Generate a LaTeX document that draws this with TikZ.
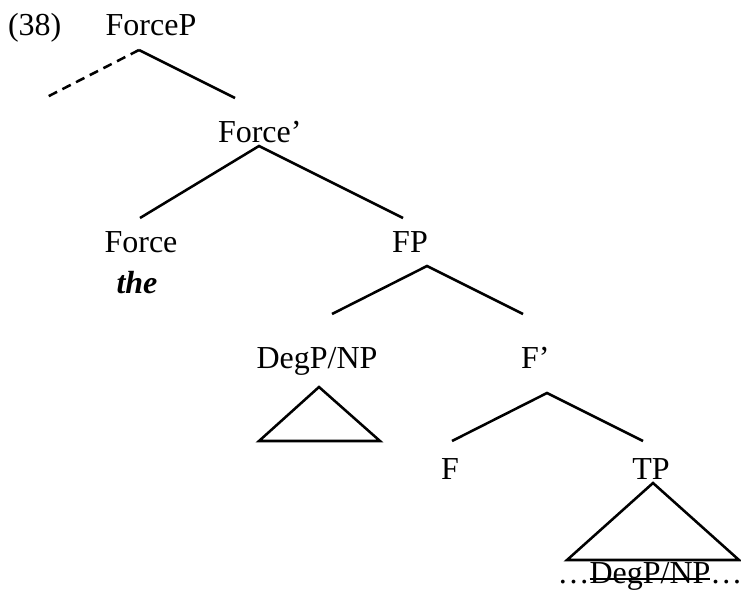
\documentclass[tikz,border=0pt]{standalone}
\usepackage{fontspec}
\setmainfont{Liberation Serif}
\usetikzlibrary{calc}
\begin{document}
\begin{tikzpicture}[x=0.75pt,y=-0.75pt,
  lbl/.style={inner sep=0pt,outer sep=0pt,anchor=base,font=\fontsize{24}{28}\selectfont},
  branch/.style={line width=1.9pt},
  dashbranch/.style={line width=1.9pt,dash pattern=on 7pt off 4.5pt},
  tri/.style={line width=1.9pt,line join=miter},
  strike/.style={line width=1.3pt}]
\useasboundingbox (0,0) rectangle (741,596);
% labels
\node[lbl,anchor=base west] (num) at (8,35) {(38)};
\node[lbl] (forcep) at (151,35) {ForceP};
\node[lbl,anchor=base west] (forcebar) at (218,142) {Force’};
\node[lbl] (force) at (141,252) {Force};
\node[lbl,font=\fontsize{24}{28}\selectfont\bfseries\itshape] (the) at (137,293) {the};
\node[lbl] (fp) at (410,252) {FP};
\node[lbl] (degp) at (317,368) {DegP/NP};
\node[lbl,anchor=base west] (fbar) at (521,368) {F’};
\node[lbl] (f) at (450,479) {F};
\node[lbl] (tp) at (651,479) {TP};
\node[lbl] (trace) at (650,583) {DegP/NP};
\node[lbl,anchor=base east] (dl) at (trace.base west) {…};
\node[lbl,anchor=base west] (dr) at (trace.base east) {…};
% branch points
\coordinate (a1) at (139,50);
\coordinate (l1) at (47,97);
\coordinate (r1) at (235,98);
\coordinate (a2) at (259,146);
\coordinate (l2) at (140,218);
\coordinate (r2) at (403,218);
\coordinate (a3) at (427,266);
\coordinate (l3) at (332,314);
\coordinate (r3) at (523,314);
\coordinate (a4) at (547,393);
\coordinate (l4) at (452,441);
\coordinate (r4) at (643,441);
\coordinate (t1a) at (319,387);
\coordinate (t1l) at (259,441);
\coordinate (t1r) at (380,441);
\coordinate (t2a) at (653,483);
\coordinate (t2l) at (567,560);
\coordinate (t2r) at (739,560);
% connectors
\draw[dashbranch] (a1) -- (l1);
\draw[branch] (a1) -- (r1);
\draw[branch] (l2) -- (a2) -- (r2);
\draw[branch] (l3) -- (a3) -- (r3);
\draw[branch] (l4) -- (a4) -- (r4);
\draw[tri] (t1a) -- (t1l) -- (t1r) -- cycle;
\draw[tri] (t2a) -- (t2l) -- (t2r) -- cycle;
\draw[strike] ($(trace.base west)+(0,-4)$) -- ($(trace.base east)+(0,-4)$);
\end{tikzpicture}
\end{document}
